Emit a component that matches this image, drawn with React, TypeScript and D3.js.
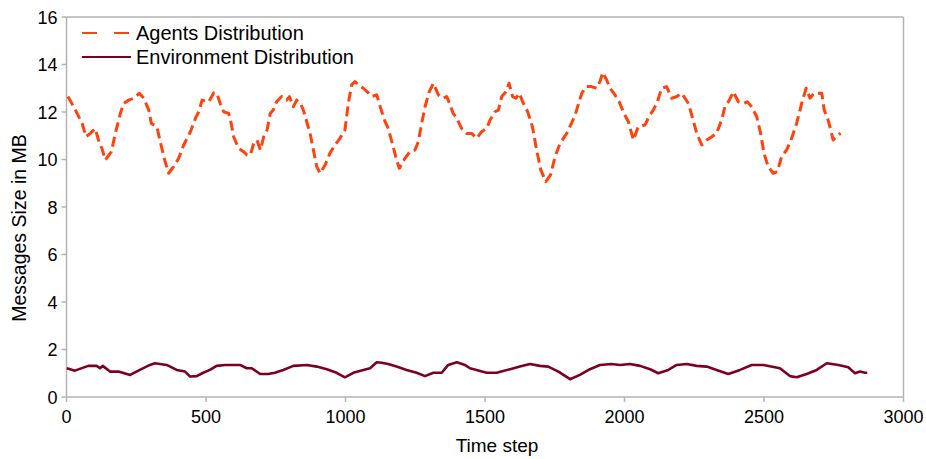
import React from "react";
import * as d3 from "d3";

const xTicks = [0, 500, 1000, 1500, 2000, 2500, 3000];
const yTicks = [0, 2, 4, 6, 8, 10, 12, 14, 16];

const seriesNames = ["Agents Distribution", "Environment Distribution"];
const seriesColors = ["#ff420e", "#7e0021"];

const agentsSteps = [
  5, 26, 38, 56, 70, 85, 103, 118, 127, 139, 161, 175, 193, 205, 223, 241, 261, 277, 295, 304,
  324, 336, 352, 366, 384, 402, 420, 444, 462, 474, 486, 510, 528, 539, 551, 563, 581, 587, 599, 617,
  635, 647, 659, 671, 683, 695, 707, 719, 730, 741, 753, 771, 789, 799, 813, 825, 839, 849, 861, 873,
  885, 897, 909, 927, 944, 962, 980, 998, 1010, 1022, 1034, 1046, 1064, 1078, 1094, 1112, 1130, 1142, 1153, 1171,
  1183, 1193, 1213, 1231, 1249, 1261, 1273, 1285, 1300, 1315, 1333, 1350, 1363, 1375, 1386, 1399, 1416, 1434, 1452, 1470,
  1488, 1506, 1518, 1536, 1548, 1560, 1575, 1586, 1599, 1611, 1623, 1635, 1653, 1670, 1685, 1700, 1718, 1735, 1751, 1769,
  1793, 1807, 1823, 1832, 1847, 1862, 1882, 1900, 1912, 1922, 1936, 1948, 1962, 1981, 1998, 2014, 2032, 2049, 2073, 2091,
  2103, 2118, 2133, 2151, 2169, 2187, 2205, 2217, 2229, 2241, 2259, 2277, 2295, 2313, 2330, 2348, 2360, 2376, 2390, 2408,
  2426, 2440, 2456, 2474, 2488, 2500, 2515, 2533, 2548, 2563, 2581, 2599, 2617, 2635, 2651, 2665, 2679, 2695, 2707, 2716,
  2730, 2748, 2766, 2775,
];
const agentsValues = [
  12.65, 12.22, 11.94, 11.52, 10.96, 11.1, 11.3, 10.68, 10.47, 9.98, 10.33, 11.1, 11.94, 12.36, 12.5, 12.58, 12.79, 12.58, 12.08, 11.52,
  11.38, 10.75, 9.98, 9.42, 9.7, 10.05, 10.61, 11.17, 11.73, 12.01, 12.5, 12.43, 12.81, 12.79, 12.36, 12.01, 11.94, 11.73, 10.96, 10.47,
  10.33, 10.19, 10.19, 10.68, 10.82, 10.4, 10.96, 11.24, 11.94, 12.08, 12.43, 12.65, 12.5, 12.65, 12.22, 12.5, 12.36, 12.08, 11.59, 11.1,
  10.4, 9.7, 9.42, 9.77, 10.26, 10.61, 10.89, 11.24, 12.36, 13.14, 13.28, 13.14, 13.0, 12.85, 12.65, 12.72, 12.01, 11.59, 11.31, 10.54,
  9.98, 9.63, 10.05, 10.33, 10.4, 10.75, 11.52, 12.22, 12.85, 13.21, 12.72, 12.58, 12.65, 12.29, 11.94, 11.73, 11.31, 11.1, 11.1, 10.89,
  11.17, 11.31, 11.66, 12.01, 12.08, 12.65, 12.85, 13.21, 12.65, 12.58, 12.79, 12.43, 12.01, 11.38, 10.4, 9.56, 9.07, 9.35, 10.12, 10.68,
  11.1, 11.45, 11.87, 12.22, 12.79, 13.07, 13.07, 13.0, 13.28, 13.66, 13.35, 13.0, 12.79, 12.43, 11.94, 11.59, 10.82, 11.38, 11.45, 11.87,
  12.08, 12.43, 13.0, 13.07, 12.58, 12.65, 12.79, 12.58, 12.36, 11.87, 11.1, 10.61, 10.82, 10.96, 11.1, 11.66, 12.22, 12.5, 12.85, 12.43,
  12.36, 12.43, 12.22, 11.8, 11.1, 10.26, 9.7, 9.42, 9.49, 10.12, 10.4, 10.89, 11.52, 12.36, 13.0, 12.58, 12.79, 12.79, 12.79, 12.08,
  11.66, 10.82, 11.03, 11.1,
];

const envSteps = [
  1, 30, 78, 108, 120, 130, 156, 186, 228, 263, 299, 317, 359, 395, 425, 443, 467, 490, 514, 538,
  568, 622, 646, 664, 694, 723, 747, 777, 813, 861, 897, 933, 968, 998, 1028, 1064, 1088, 1112, 1130, 1153,
  1183, 1219, 1255, 1285, 1315, 1345, 1368, 1399, 1428, 1446, 1506, 1542, 1590, 1625, 1661, 1697, 1727, 1763, 1805, 1840,
  1876, 1912, 1954, 1984, 2020, 2056, 2092, 2121, 2157, 2187, 2223, 2259, 2295, 2330, 2372, 2414, 2456, 2498, 2557, 2593,
  2617, 2653, 2689, 2725, 2767, 2802, 2826, 2844, 2862, 2870,
];
const envValues = [
  1.21, 1.11, 1.31, 1.31, 1.21, 1.31, 1.07, 1.07, 0.93, 1.14, 1.35, 1.42, 1.35, 1.14, 1.07, 0.86, 0.88, 1.02, 1.14, 1.31,
  1.35, 1.35, 1.21, 1.21, 0.97, 0.97, 1.02, 1.14, 1.31, 1.35, 1.28, 1.17, 1.02, 0.83, 1.02, 1.14, 1.21, 1.46, 1.44, 1.39,
  1.28, 1.14, 1.02, 0.88, 1.02, 1.02, 1.35, 1.46, 1.35, 1.21, 1.02, 1.02, 1.17, 1.28, 1.39, 1.31, 1.28, 1.07, 0.75, 0.93,
  1.17, 1.35, 1.39, 1.35, 1.39, 1.31, 1.17, 1.0, 1.14, 1.35, 1.39, 1.31, 1.28, 1.14, 0.97, 1.14, 1.35, 1.35, 1.21, 0.88,
  0.83, 0.97, 1.14, 1.42, 1.35, 1.25, 1.0, 1.07, 1.02, 1.02,
];

const W = 926;
const H = 459;
const left = 66.5;
const right = 903.5;
const top = 17;
const bottom = 397;
const font = "'Liberation Sans', Arial, sans-serif";
const axisColor = "#b3b3b3";

export default function App() {
  const x = d3.scaleLinear().domain([0, 3000]).range([left, right]);
  const y = d3.scaleLinear().domain([0, 16]).range([bottom, top]);
  const line = d3
    .line<[number, number]>()
    .x((d) => x(d[0]))
    .y((d) => y(d[1]));
  const agents = agentsSteps.map((s, i) => [s, agentsValues[i]] as [number, number]);
  const env = envSteps.map((s, i) => [s, envValues[i]] as [number, number]);

  return (
    <svg
      width={W}
      height={H}
      style={{ position: "absolute", left: 0, top: 0, background: "#fff" }}
      fontFamily={font}
    >
      <rect x={0} y={0} width={W} height={H} fill="#fff" />
      <line x1={left} x2={right} y1={top} y2={top} stroke={axisColor} strokeWidth={1.5} />
      <line x1={right} x2={right} y1={top} y2={bottom} stroke={axisColor} strokeWidth={1.5} />
      <line x1={left} x2={right} y1={bottom} y2={bottom} stroke={axisColor} strokeWidth={1.5} />
      <line x1={left} x2={left} y1={top} y2={bottom} stroke={axisColor} strokeWidth={1.5} />
      {yTicks.map((t) => (
        <g key={"y" + t}>
          <line x1={left - 5} x2={left} y1={y(t)} y2={y(t)} stroke={axisColor} strokeWidth={1.5} />
          <text x={57.5} y={y(t) + 6.5} textAnchor="end" fontSize={18} fill="#000">
            {t}
          </text>
        </g>
      ))}
      {xTicks.map((t) => (
        <g key={"x" + t}>
          <line x1={x(t)} x2={x(t)} y1={bottom} y2={bottom + 5} stroke={axisColor} strokeWidth={1.5} />
          <text x={x(t)} y={423} textAnchor="middle" fontSize={18} fill="#000">
            {t}
          </text>
        </g>
      ))}
      <text x={497} y={452} textAnchor="middle" fontSize={19} fill="#000">
        Time step
      </text>
      <text
        transform={`translate(25.5,228) rotate(-90)`}
        textAnchor="middle"
        fontSize={19.5}
        fill="#000"
      >
        Messages Size in MB
      </text>
      <path
        d={line(env) || ""}
        fill="none"
        stroke={seriesColors[1]}
        strokeWidth={2.6}
        strokeLinejoin="round"
      />
      <path
        d={line(agents) || ""}
        fill="none"
        stroke={seriesColors[0]}
        strokeWidth={3}
        strokeDasharray="10,5"
        strokeLinejoin="round"
      />
      <line x1={82} x2={130} y1={33} y2={33} stroke={seriesColors[0]} strokeWidth={2} strokeDasharray="15,17" />
      <text x={136} y={40} fontSize={20} fill="#000">
        {seriesNames[0]}
      </text>
      <line x1={82} x2={131} y1={57} y2={57} stroke={seriesColors[1]} strokeWidth={2} />
      <text x={136} y={64} fontSize={20} fill="#000">
        {seriesNames[1]}
      </text>
    </svg>
  );
}
